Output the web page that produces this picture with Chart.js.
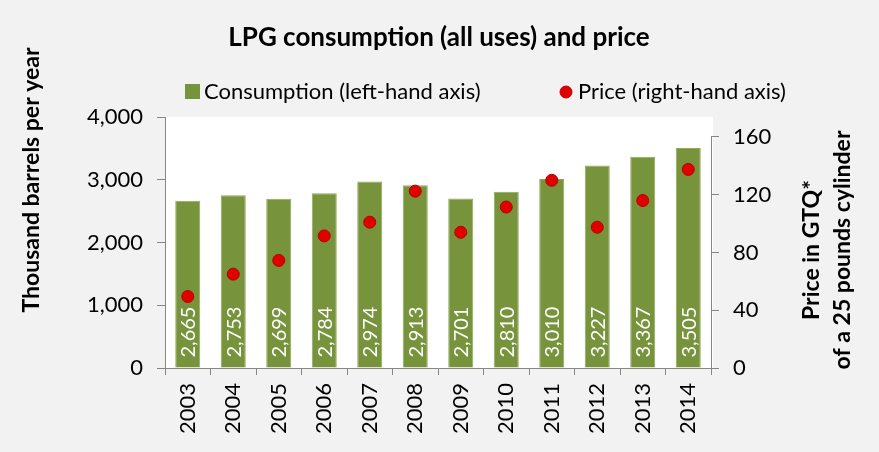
<!DOCTYPE html>
<html lang="en">
<head>
    <meta charset="UTF-8" />
    <title>LPG consumption (all uses) and price</title>
    <script src="https://cdn.jsdelivr.net/npm/chart.js"></script>
    <style>
        html, body { margin: 0; padding: 0; background: #f2f2f2; }
        canvas { display: block; }
    </style>
</head>
<body>
    <canvas id="lpgChart" width="879" height="452"></canvas>

    <script>
        // data
        const years = ["2003", "2004", "2005", "2006", "2007", "2008", "2009", "2010", "2011", "2012", "2013", "2014"];
        const consumption = [2665, 2753, 2699, 2784, 2974, 2913, 2701, 2810, 3010, 3227, 3367, 3505];
        const price = [49.5, 65, 74.5, 91.5, 101, 122.5, 94, 111.5, 130, 97.5, 116, 137.5];
        const priceTicks = [0, 40, 80, 120, 160];

        const FONT = "Lato, 'Liberation Sans', sans-serif";
        const AXIS_COLOR = "#868686";

        // white plot background, as in the spreadsheet chart
        const plotBackground = {
            id: "plotBackground",
            beforeDraw(chart) {
                const { ctx, chartArea: a } = chart;
                ctx.save();
                ctx.fillStyle = "#ffffff";
                ctx.fillRect(a.left, a.top, a.right - a.left + 2, a.bottom - a.top);
                ctx.restore();
            }
        };

        // title, legend, axis titles, bar value labels and the short right axis line
        const extras = {
            id: "extras",
            afterDatasetsDraw(chart) {
                const ctx = chart.ctx;
                const barMeta = chart.getDatasetMeta(0);
                ctx.save();
                ctx.fillStyle = "#ffffff";
                ctx.font = "20px " + FONT;
                ctx.textAlign = "left";
                ctx.textBaseline = "middle";
                barMeta.data.forEach((bar, i) => {
                    ctx.save();
                    ctx.translate(bar.x + 1, bar.base - 10);
                    ctx.rotate(-Math.PI / 2);
                    ctx.fillText(consumption[i].toLocaleString("en-US"), 0, 0);
                    ctx.restore();
                });
                ctx.restore();
            },
            afterDraw(chart) {
                const ctx = chart.ctx;
                const y1 = chart.scales.y1;
                ctx.save();

                // right axis line stops at the last tick
                ctx.strokeStyle = AXIS_COLOR;
                ctx.lineWidth = 1;
                ctx.beginPath();
                ctx.moveTo(y1.left + 0.5, y1.getPixelForValue(160));
                ctx.lineTo(y1.left + 0.5, y1.getPixelForValue(0));
                ctx.stroke();

                ctx.fillStyle = "#000000";
                ctx.textAlign = "center";
                ctx.textBaseline = "middle";
                ctx.font = "bold 26px " + FONT;
                ctx.fillText("LPG consumption (all uses) and price", 439, 38);

                // legend
                ctx.font = "22px " + FONT;
                ctx.textAlign = "left";
                ctx.fillStyle = chart.data.datasets[0].backgroundColor;
                ctx.fillRect(185, 84, 15, 15);
                ctx.fillStyle = "#000000";
                ctx.fillText(chart.data.datasets[0].label, 204, 92);

                ctx.beginPath();
                ctx.arc(566, 92, 6, 0, Math.PI * 2);
                ctx.fillStyle = chart.data.datasets[1].backgroundColor;
                ctx.fill();
                ctx.strokeStyle = chart.data.datasets[1].borderColor;
                ctx.stroke();
                ctx.fillStyle = "#000000";
                ctx.fillText(chart.data.datasets[1].label, 578, 92);

                // axis titles
                ctx.font = "bold 23px " + FONT;
                ctx.textAlign = "center";
                ctx.save();
                ctx.translate(32, 180);
                ctx.rotate(-Math.PI / 2);
                ctx.fillText("Thousand barrels per year", 0, 0);
                ctx.restore();

                ctx.save();
                ctx.translate(812, 250);
                ctx.rotate(-Math.PI / 2);
                ctx.fillText("Price in GTQ*", 0, 0);
                ctx.fillText("of a 25 pounds cylinder", 0, 31);
                ctx.restore();

                ctx.restore();
            }
        };

        const ctx = document.getElementById("lpgChart").getContext("2d");
        const lpgChart = new Chart(ctx, {
            type: "bar",
            data: {
                labels: years,
                datasets: [
                    {
                        type: "bar",
                        label: "Consumption (left-hand axis)",
                        data: consumption,
                        yAxisID: "y",
                        backgroundColor: "#77933c",
                        borderColor: "#8eaa56",
                        borderWidth: 1,
                        barPercentage: 0.55,
                        categoryPercentage: 1,
                        order: 2
                    },
                    {
                        type: "line",
                        label: "Price (right-hand axis)",
                        data: price,
                        yAxisID: "y1",
                        showLine: false,
                        backgroundColor: "#e00000",
                        borderColor: "#b80000",
                        pointRadius: 6,
                        pointBorderWidth: 1,
                        order: 1
                    }
                ]
            },
            options: {
                responsive: false,
                animation: false,
                layout: { padding: { top: 117, left: 0, right: 0, bottom: 0 } },
                plugins: {
                    legend: { display: false },
                    title: { display: false },
                    tooltip: { enabled: false }
                },
                scales: {
                    x: {
                        grid: { offset: true, drawOnChartArea: false, tickLength: 7, color: AXIS_COLOR },
                        border: { color: AXIS_COLOR },
                        ticks: {
                            minRotation: 90,
                            maxRotation: 90,
                            padding: 8,
                            color: "#000000",
                            font: { family: FONT, size: 22 }
                        },
                        afterFit(scale) { scale.height = 84; }
                    },
                    y: {
                        position: "left",
                        min: 0,
                        max: 4000,
                        grid: { drawOnChartArea: false, tickLength: 8, color: AXIS_COLOR },
                        border: { color: AXIS_COLOR },
                        ticks: {
                            stepSize: 1000,
                            padding: 14,
                            color: "#000000",
                            font: { family: FONT, size: 22 },
                            callback: v => v.toLocaleString("en-US")
                        },
                        afterFit(scale) { scale.width = 165; }
                    },
                    y1: {
                        position: "right",
                        min: 0,
                        max: 173.85,
                        grid: { drawOnChartArea: false, tickLength: 8, color: AXIS_COLOR },
                        border: { display: false },
                        afterBuildTicks(scale) {
                            scale.ticks = priceTicks.map(v => ({ value: v }));
                        },
                        ticks: {
                            padding: 14,
                            color: "#000000",
                            font: { family: FONT, size: 22 },
                            callback: v => String(v)
                        },
                        afterFit(scale) { scale.width = 168; }
                    }
                }
            },
            plugins: [plotBackground, extras]
        });
    </script>
</body>
</html>
